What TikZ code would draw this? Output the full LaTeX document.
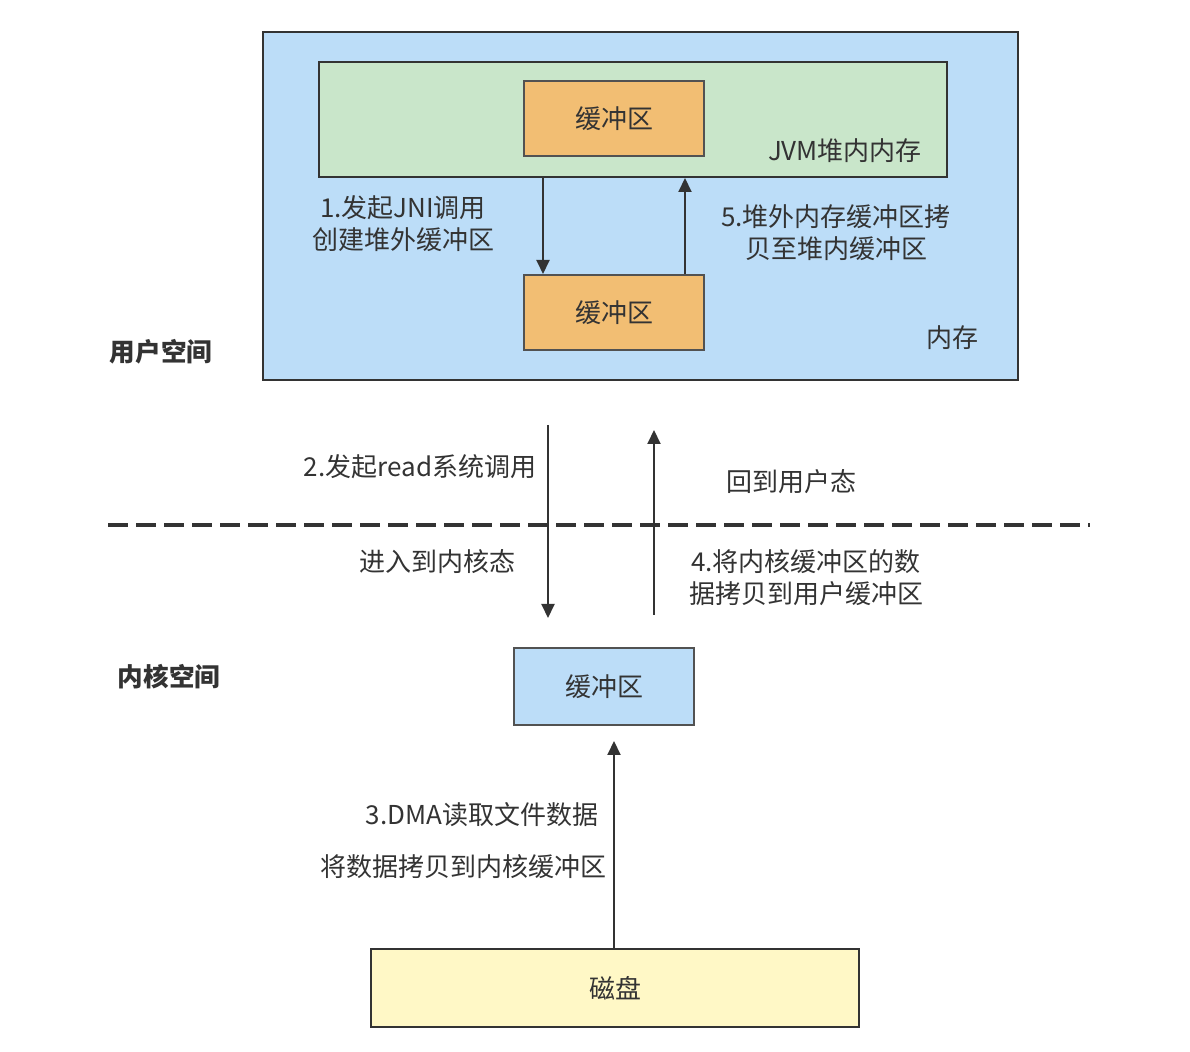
\documentclass[tikz,border=0pt]{standalone}
\usepackage{fontspec}
\setmainfont{Noto Sans CJK SC}
\usetikzlibrary{arrows.meta}
\definecolor{memblue}{HTML}{BCDDF8}
\definecolor{jvmgreen}{HTML}{C9E6CA}
\definecolor{bufor}{HTML}{F2BE73}
\definecolor{diskyel}{HTML}{FFF8C6}
\definecolor{ink}{HTML}{333333}
\tikzset{
	area/.style={draw=ink,line width=1pt,anchor=north west,inner sep=0pt},
	buf/.style={draw=ink!85,line width=1pt,fill=bufor,minimum width=90pt,minimum height=37.5pt,inner sep=0pt},
	txt/.style={text=ink,font=\fontsize{13}{16}\selectfont,align=center,inner sep=0pt},
	head/.style={text=ink,font=\fontsize{12.8}{15}\selectfont\bfseries,inner sep=0pt},
	flow/.style={draw=ink,line width=1pt,-{Triangle[length=7pt,width=6.5pt]}}
}

\begin{document}
\begin{tikzpicture}[x=0.5pt,y=-0.5pt]
	\useasboundingbox (0,0) rectangle (1190,1052);
	% user space
	\node[area,fill=memblue,minimum width=377.5pt,minimum height=174pt] (mem) at (262,31) {};
	\node[area,fill=jvmgreen,minimum width=314pt,minimum height=57.5pt] (jvm) at (318,61) {};
	\node[buf] (bufA) at (614,118.5) {\color{ink}\fontsize{13}{15}\selectfont 缓冲区};
	\node[buf] (bufB) at (614,312.5) {\color{ink}\fontsize{13}{15}\selectfont 缓冲区};
	\node[txt] (jvmlbl) at (845,151) {JVM堆内内存};
	\node[txt] (memlbl) at (952,338) {内存};
	\node[txt] (step1) at (403,224) {1.发起JNI调用\\创建堆外缓冲区};
	\node[txt] (step5) at (836,233) {5.堆外内存缓冲区拷\\贝至堆内缓冲区};
	\draw[flow] (jvm.south -| 543,0) -- (bufB.north -| 543,0);
	\draw[flow] (bufB.north -| 685,0) -- (jvm.south -| 685,0);
	\node[head] (user) at (161,352) {用户空间};
	% syscall boundary
	\coordinate (sepL) at (108,525);
	\coordinate (sepR) at (1090,525);
	\draw[ink,line width=1.6pt,dash pattern=on 10pt off 4pt] (sepL) -- (sepR);
	\coordinate (downA) at (548,425);
	\coordinate (downB) at (548,618);
	\coordinate (upA) at (654,615);
	\coordinate (upB) at (654,430);
	\draw[flow] (downA) -- (downB);
	\draw[flow] (upA) -- (upB);
	\node[txt] (step2) at (420,467) {2.发起read系统调用};
	\node[txt] (enter) at (437,562) {进入到内核态};
	\node[txt] (back) at (791,482) {回到用户态};
	\node[txt] (step4) at (806,578) {4.将内核缓冲区的数\\据拷贝到用户缓冲区};
	% kernel space
	\node[head] (kernel) at (169,677) {内核空间};
	\node[buf,fill=memblue,minimum height=38.5pt] (bufK) at (604,686.5) {\color{ink}\fontsize{13}{15}\selectfont 缓冲区};
	\node[area,fill=diskyel,minimum width=244pt,minimum height=39pt] (disk) at (370,948) {};
	\node[txt] at (disk.center) {磁盘};
	\draw[flow] (disk.north -| 614,0) -- ([yshift=-7.5pt]bufK.south -| 614,0);
	\node[txt] (step3) at (482,815) {3.DMA读取文件数据};
	\node[txt] (step3b) at (463,867) {将数据拷贝到内核缓冲区};
\end{tikzpicture}
\end{document}
